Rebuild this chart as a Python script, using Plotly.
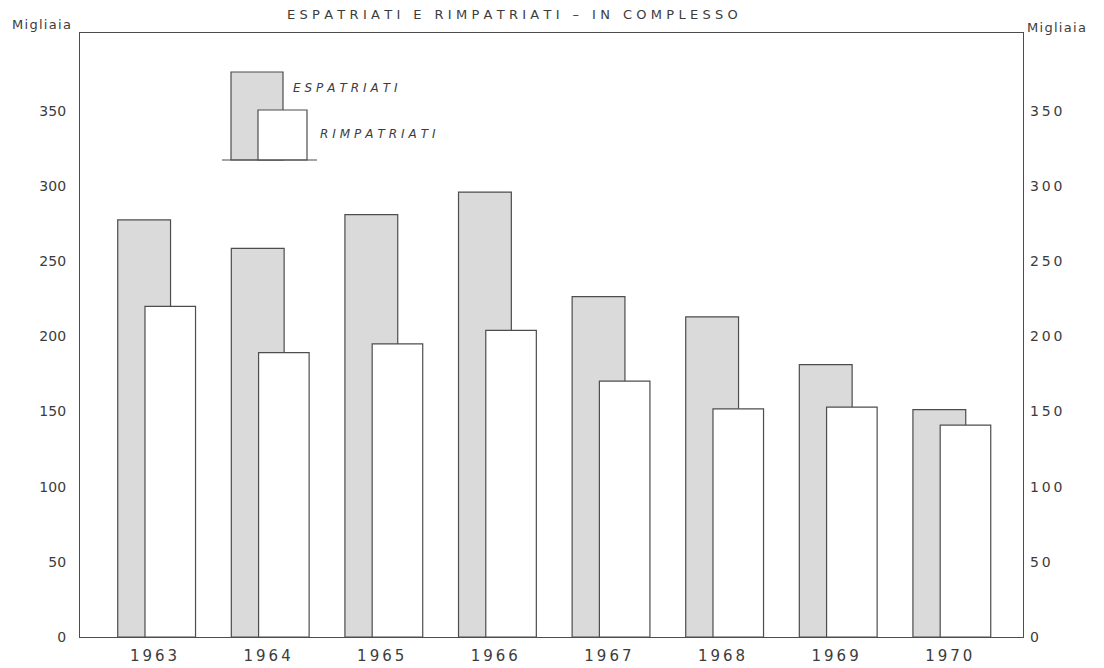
import plotly.graph_objects as go

# ---- data (thousands) ----
years = [1963, 1964, 1965, 1966, 1967, 1968, 1969, 1970]
year_labels = ["1963", "1964", "1965", "1966", "1967", "1968", "1969", "1970"]
espatriati = [277.5, 258.6, 281.0, 296.0, 226.5, 213.0, 181.2, 151.3]
rimpatriati = [220.0, 189.2, 195.0, 204.0, 170.3, 151.8, 153.0, 141.0]
y_ticks = [0, 50, 100, 150, 200, 250, 300, 350]

THIN = "\u2009"
THREE = "\u2004"
HAIR = "\u200a"
EN = "\u2002"


def spaced(s, sep=THIN):
    return sep.join(list(s))


W, H = 1104, 668
L, R, T, B = 80, 1023, 33, 637          # plot box in window pixels
PW, PH = R - L, B - T


def px(x):
    return (x - L) / PW


def py(y):
    return (B - y) / PH


LINE = "#4d4d4d"
TXT = "#3c3c3c"
GRAY = "#dadada"
FONT = "DejaVu Sans"

fig = go.Figure()
fig.add_trace(go.Bar(
    x=years, y=espatriati, name="ESPATRIATI",
    offset=-0.315, width=0.465,
    marker=dict(color=GRAY, line=dict(color=LINE, width=1.2)),
))
fig.add_trace(go.Bar(
    x=years, y=rimpatriati, name="RIMPATRIATI",
    offset=-0.075, width=0.445,
    marker=dict(color="white", line=dict(color=LINE, width=1.2)),
))
fig.add_trace(go.Scatter(
    x=years, y=espatriati, yaxis="y2", mode="markers",
    marker=dict(opacity=0), hoverinfo="skip", showlegend=False,
))

yr = [0, PH / 1.503]

fig.update_layout(
    width=W, height=H,
    margin=dict(l=L, r=W - R, t=T, b=H - B, pad=0, autoexpand=False),
    paper_bgcolor="white", plot_bgcolor="white",
    barmode="overlay", showlegend=False,
    font=dict(family=FONT, color=TXT, size=14),
    xaxis=dict(
        range=[1962.353, 1970.654], tickvals=years,
        ticktext=[spaced(t) for t in year_labels],
        showline=True, mirror=True, linecolor=LINE, linewidth=1.3,
        showgrid=False, zeroline=False, ticks="", automargin=False,
        tickfont=dict(size=15, color=TXT), ticklabelstandoff=5,
    ),
    yaxis=dict(
        range=yr, tickvals=y_ticks, ticktext=[str(v) for v in y_ticks],
        showline=True, mirror=True, linecolor=LINE, linewidth=1.3,
        showgrid=False, zeroline=False, ticks="", automargin=False,
        tickfont=dict(size=14, color=TXT), ticklabelstandoff=10,
    ),
    yaxis2=dict(
        range=yr, overlaying="y", side="right", tickvals=y_ticks,
        ticktext=[spaced(str(v)) for v in y_ticks],
        showline=False, showgrid=False, zeroline=False, ticks="", automargin=False,
        tickfont=dict(size=14, color=TXT), ticklabelstandoff=6,
    ),
)

# ---- title and unit labels ----
GAP = EN + EN
title = (spaced("ESPATRIATI", THREE) + GAP + "E" + GAP
         + spaced("RIMPATRIATI", THREE) + GAP + "–" + GAP
         + spaced("IN", THREE) + GAP + spaced("COMPLESSO", THREE))
fig.add_annotation(
    text=title, xref="paper", yref="paper", x=px(512), y=py(15),
    xanchor="center", yanchor="middle", showarrow=False,
    font=dict(size=13, color=TXT),
)
fig.add_annotation(
    text=spaced("Migliaia", HAIR), xref="paper", yref="paper",
    x=px(10), y=py(25), xanchor="left", yanchor="middle", showarrow=False,
    font=dict(size=13, color=TXT),
)
fig.add_annotation(
    text=spaced("Migliaia", HAIR), xref="paper", yref="paper",
    x=px(1025), y=py(27), xanchor="left", yanchor="middle", showarrow=False,
    font=dict(size=13, color=TXT),
)

# ---- hand-drawn style legend ----
fig.add_shape(type="rect", xref="paper", yref="paper",
              x0=px(231), x1=px(283), y0=py(160), y1=py(72),
              fillcolor=GRAY, line=dict(color=LINE, width=1.2))
fig.add_shape(type="rect", xref="paper", yref="paper",
              x0=px(258), x1=px(307), y0=py(160), y1=py(110),
              fillcolor="white", line=dict(color=LINE, width=1.2))
fig.add_shape(type="line", xref="paper", yref="paper",
              x0=px(222), x1=px(317), y0=py(160), y1=py(160),
              line=dict(color=LINE, width=1.2))
fig.add_annotation(
    text="<i>" + spaced("ESPATRIATI", THREE) + "</i>", xref="paper", yref="paper",
    x=px(291), y=py(88), xanchor="left", yanchor="middle", showarrow=False,
    font=dict(size=12, color=TXT),
)
fig.add_annotation(
    text="<i>" + spaced("RIMPATRIATI", THREE) + "</i>", xref="paper", yref="paper",
    x=px(318), y=py(134), xanchor="left", yanchor="middle", showarrow=False,
    font=dict(size=12, color=TXT),
)

fig.write_html("out.html", config={"displayModeBar": False},
               post_script="document.body.style.margin='0px';document.body.style.overflow='hidden';")
